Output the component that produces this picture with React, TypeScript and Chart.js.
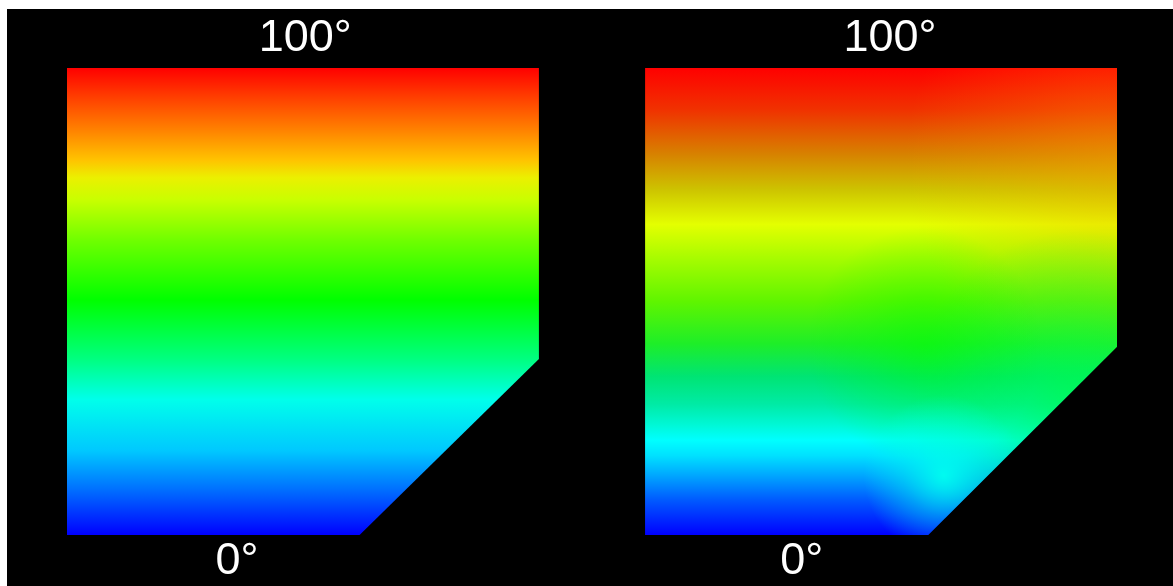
import React, { useEffect, useRef } from 'react';
import { Chart, registerables } from 'chart.js';

Chart.register(...registerables);

// Geometry of the two test pieces (x in panel units, y in degrees 0..100)
const xMax = 222.5;
const leftOutlineX = [0, 62, 100];
const leftOutlineY = [0, 0, 37.7];
const rightOutlineX = [122.5, 182.5, 222.5];
const rightOutlineY = [0, 0, 40.3];

// Tick labels
const topTickValues = [50.5, 174.4];
const topTickLabels = ['100°', '100°'];
const bottomTickValues = [36, 155.7];
const bottomTickLabels = ['0°', '0°'];

// Temperature colour levels (degrees) for the left (ideal) piece
const leftStopLevels = [0, 9.6, 18, 29, 37.5, 50.3, 63, 71.7, 76.5, 80.3, 86.7, 94, 100];
const leftStopColors = [
  'rgb(0,0,255)', 'rgb(0,110,255)', 'rgb(0,200,255)', 'rgb(0,255,235)', 'rgb(0,255,130)',
  'rgb(0,255,0)', 'rgb(110,255,0)', 'rgb(200,255,0)', 'rgb(235,240,0)', 'rgb(255,195,0)',
  'rgb(255,130,0)', 'rgb(255,60,0)', 'rgb(255,0,0)',
];

// Temperature colour levels for the right (measured) piece
const rightStopLevels = [0, 7.5, 13, 17, 20.3, 23.5, 28, 34, 41, 50, 59, 66.5, 74, 81.5, 91, 100];
const rightStopColors = [
  'rgb(0,0,255)', 'rgb(0,90,255)', 'rgb(0,170,255)', 'rgb(0,225,255)', 'rgb(0,255,255)',
  'rgb(0,248,215)', 'rgb(0,235,165)', 'rgb(0,228,115)', 'rgb(30,238,40)', 'rgb(95,245,0)',
  'rgb(165,252,0)', 'rgb(228,255,0)', 'rgb(205,195,0)', 'rgb(215,130,0)', 'rgb(240,50,0)',
  'rgb(255,0,0)',
];

// Local deviations in the measured piece: centre x, centre y, radius (x units), rgb, alpha
const spotX = [222.5, 214.6, 181.8, 185.8];
const spotY = [80, 28.9, 40.7, 12.8];
const spotR = [45, 36, 25, 17];
const spotRGB = ['255,170,0', '0,255,70', '0,255,0', '0,255,240'];
const spotAlpha = [0.35, 0.7, 0.5, 0.95];

const toPoints = (xs: number[], ys: number[]) => xs.map((x, i) => ({ x, y: ys[i] }));

function verticalGradient(chart: any, levels: number[], colors: string[]) {
  const area = chart.chartArea;
  const ys = chart.scales?.y;
  if (!area || !ys) return colors[0];
  const g = chart.ctx.createLinearGradient(0, ys.getPixelForValue(0), 0, ys.getPixelForValue(100));
  levels.forEach((l, i) => g.addColorStop(l / 100, colors[i]));
  return g;
}

function spotGradient(chart: any, i: number) {
  const area = chart.chartArea;
  const xs = chart.scales?.x;
  const ys = chart.scales?.y;
  if (!area || !xs || !ys) return 'rgba(0,0,0,0)';
  const cx = xs.getPixelForValue(spotX[i]);
  const cy = ys.getPixelForValue(spotY[i]);
  const r = Math.abs(xs.getPixelForValue(spotX[i] + spotR[i]) - cx);
  const g = chart.ctx.createRadialGradient(cx, cy, 0, cx, cy, r);
  g.addColorStop(0, `rgba(${spotRGB[i]},${spotAlpha[i]})`);
  g.addColorStop(0.5, `rgba(${spotRGB[i]},${spotAlpha[i] * 0.45})`);
  g.addColorStop(1, `rgba(${spotRGB[i]},0)`);
  return g;
}

const FONT = "'Liberation Sans', Arial, Helvetica, sans-serif";

export default function App() {
  const canvasRef = useRef<HTMLCanvasElement | null>(null);

  useEffect(() => {
    if (!canvasRef.current) return;
    const rightPoints = toPoints(rightOutlineX, rightOutlineY);
    const common = {
      fill: 'end',
      borderColor: 'rgba(0,0,0,0)',
      borderWidth: 0,
      pointRadius: 0,
      pointHoverRadius: 0,
      tension: 0,
    };
    const datasets: any[] = [
      {
        ...common,
        label: 'ideal',
        data: toPoints(leftOutlineX, leftOutlineY),
        backgroundColor: (c: any) => verticalGradient(c.chart, leftStopLevels, leftStopColors),
        order: 20,
      },
      {
        ...common,
        label: 'measured',
        data: rightPoints,
        backgroundColor: (c: any) => verticalGradient(c.chart, rightStopLevels, rightStopColors),
        order: 20,
      },
      ...spotX.map((_, i) => ({
        ...common,
        label: 'spot' + i,
        data: rightPoints,
        backgroundColor: (c: any) => spotGradient(c.chart, i),
        order: 10 - i,
      })),
    ];

    const tickFont = { family: FONT, size: 45 };
    const chart = new Chart(canvasRef.current, {
      type: 'line',
      data: { datasets },
      options: {
        animation: false,
        responsive: true,
        maintainAspectRatio: false,
        layout: { padding: { left: 60, right: 56, top: 0, bottom: 0 } },
        plugins: { legend: { display: false }, tooltip: { enabled: false } },
        events: [],
        scales: {
          x: {
            type: 'linear',
            position: 'bottom',
            min: 0,
            max: xMax,
            grid: { display: false, drawTicks: false },
            border: { display: false },
            ticks: {
              color: '#ffffff',
              font: tickFont,
              padding: 0,
              autoSkip: false,
              maxRotation: 0,
              callback: (_v: any, i: number) => bottomTickLabels[i] ?? '',
            },
            afterBuildTicks: (s: any) => {
              s.ticks = bottomTickValues.map((value) => ({ value }));
            },
            afterFit: (s: any) => {
              s.height = 51;
            },
          },
          x2: {
            type: 'linear',
            position: 'top',
            min: 0,
            max: xMax,
            grid: { display: false, drawTicks: false },
            border: { display: false },
            ticks: {
              color: '#ffffff',
              font: tickFont,
              padding: 2,
              autoSkip: false,
              maxRotation: 0,
              callback: (_v: any, i: number) => topTickLabels[i] ?? '',
            },
            afterBuildTicks: (s: any) => {
              s.ticks = topTickValues.map((value) => ({ value }));
            },
            afterFit: (s: any) => {
              s.height = 59;
            },
          },
          y: { type: 'linear', min: 0, max: 100, display: false },
        },
      } as any,
    });
    return () => chart.destroy();
  }, []);

  return (
    <div
      style={{
        position: 'fixed',
        left: 7,
        top: 9,
        width: 1166,
        height: 577,
        background: '#000',
      }}
    >
      <canvas ref={canvasRef} />
    </div>
  );
}
